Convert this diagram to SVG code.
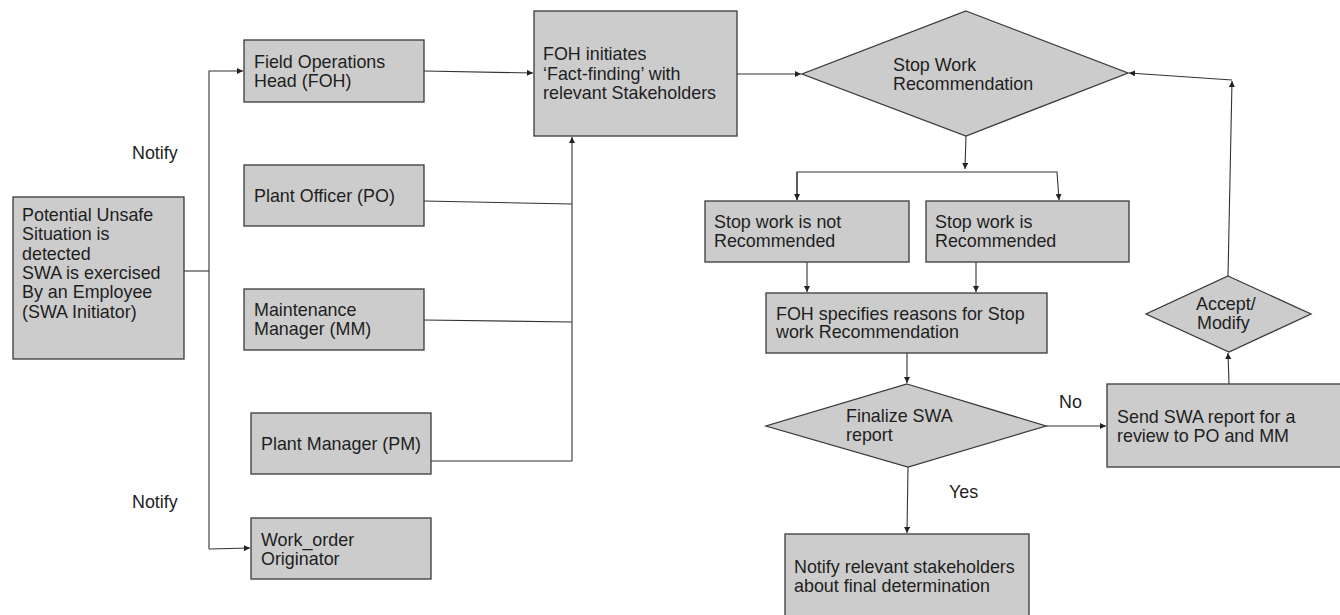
<svg xmlns="http://www.w3.org/2000/svg" width="1340" height="615" viewBox="0 0 1340 615">
<style>
.n{fill:#cccccc;stroke:#3a3a3a;stroke-width:1.3}
.t{font-family:"Liberation Sans",Arial,sans-serif;font-size:17.9px;fill:#1e1e1e}
.c{fill:none;stroke:#333;stroke-width:1.1}
</style>
<defs>
<marker id="a" viewBox="0 0 10 10" refX="10" refY="5" markerWidth="6" markerHeight="6" markerUnits="userSpaceOnUse" orient="auto">
<path d="M0,0 L10,5 L0,10 z" fill="#222"/>
</marker>
</defs>
<rect width="1340" height="615" fill="#ffffff"/>
<g id="connectors">
<path class="c" d="M184,271 H209"/>
<path class="c" d="M209,549 V71 H243" marker-end="url(#a)"/>
<path class="c" d="M209,549 L250,548" marker-end="url(#a)"/>
<path class="c" d="M424,71 L533,73" marker-end="url(#a)"/>
<path class="c" d="M424,201 L572,204"/>
<path class="c" d="M424,320 L572,322"/>
<path class="c" d="M431,461 H572"/>
<path class="c" d="M572,461 V137" marker-end="url(#a)"/>
<path class="c" d="M737,74 H801" marker-end="url(#a)"/>
<path class="c" d="M966,136 L965,169" marker-end="url(#a)"/>
<path class="c" d="M797,200 V172 H1057 L1059,200" marker-end="url(#a)"/>
<path class="c" d="M797,172 V200" marker-end="url(#a)"/>
<path class="c" d="M807,262 V292" marker-end="url(#a)"/>
<path class="c" d="M976,262 V292" marker-end="url(#a)"/>
<path class="c" d="M907,353 V383" marker-end="url(#a)"/>
<path class="c" d="M1046,426 H1106" marker-end="url(#a)"/>
<path class="c" d="M908,467 L907,533" marker-end="url(#a)"/>
<path class="c" d="M1229,384 L1228,353" marker-end="url(#a)"/>
<path class="c" d="M1228,276 L1232,81" marker-end="url(#a)"/>
<path class="c" d="M1232,80 L1129,73" marker-end="url(#a)"/>
<text class="t" x="132" y="159">Notify</text>
<text class="t" x="132" y="508">Notify</text>
<text class="t" x="1059" y="408">No</text>
<text class="t" x="949" y="498">Yes</text>
</g>
<g id="swa">
<rect class="n" x="13" y="197" width="171" height="162"/>
<text class="t" x="22" y="221">Potential Unsafe</text>
<text class="t" x="22" y="240">Situation is</text>
<text class="t" x="22" y="260">detected</text>
<text class="t" x="22" y="279">SWA is exercised</text>
<text class="t" x="22" y="298">By an Employee</text>
<text class="t" x="22" y="318">(SWA Initiator)</text>
</g>
<g id="foh">
<rect class="n" x="244" y="40" width="180" height="62"/>
<text class="t" x="254" y="68">Field Operations</text>
<text class="t" x="254" y="87">Head (FOH)</text>
</g>
<g id="po">
<rect class="n" x="244" y="165" width="180" height="61"/>
<text class="t" x="254" y="202">Plant Officer (PO)</text>
</g>
<g id="mm">
<rect class="n" x="244" y="289" width="180" height="61"/>
<text class="t" x="254" y="316">Maintenance</text>
<text class="t" x="254" y="335">Manager (MM)</text>
</g>
<g id="pm">
<rect class="n" x="251" y="413" width="180" height="61"/>
<text class="t" x="261" y="450">Plant Manager (PM)</text>
</g>
<g id="wo">
<rect class="n" x="251" y="518" width="180" height="61"/>
<text class="t" x="261" y="546">Work_order</text>
<text class="t" x="261" y="565">Originator</text>
</g>
<g id="fact">
<rect class="n" x="534" y="11" width="203" height="125"/>
<text class="t" x="543" y="60">FOH initiates</text>
<text class="t" x="543" y="80">‘Fact-finding’ with</text>
<text class="t" x="543" y="99">relevant Stakeholders</text>
</g>
<g id="stopdec">
<polygon class="n" points="966,11 1128,73 966,136 802,74"/>
<text class="t" x="893" y="71">Stop Work</text>
<text class="t" x="893" y="90">Recommendation</text>
</g>
<g id="notrec">
<rect class="n" x="705" y="201" width="204" height="61"/>
<text class="t" x="714" y="228">Stop work is not</text>
<text class="t" x="714" y="247">Recommended</text>
</g>
<g id="rec">
<rect class="n" x="926" y="201" width="203" height="61"/>
<text class="t" x="935" y="228">Stop work is</text>
<text class="t" x="935" y="247">Recommended</text>
</g>
<g id="reasons">
<rect class="n" x="766" y="293" width="281" height="60"/>
<text class="t" x="776" y="320">FOH specifies reasons for Stop</text>
<text class="t" x="776" y="338">work Recommendation</text>
</g>
<g id="finalize">
<polygon class="n" points="907,384 1046,426 908,467 766,426"/>
<text class="t" x="846" y="422">Finalize SWA</text>
<text class="t" x="846" y="441">report</text>
</g>
<g id="send">
<rect class="n" x="1107" y="384" width="240" height="83"/>
<text class="t" x="1117" y="423">Send SWA report for a</text>
<text class="t" x="1117" y="442">review to PO and MM</text>
</g>
<g id="accept">
<polygon class="n" points="1228,276 1311,314 1229,352 1146,314"/>
<text class="t" x="1196" y="310">Accept/</text>
<text class="t" x="1197" y="329">Modify</text>
</g>
<g id="notify">
<rect class="n" x="785" y="534" width="244" height="90"/>
<text class="t" x="794" y="573">Notify relevant stakeholders</text>
<text class="t" x="794" y="592">about final determination</text>
</g>
</svg>
